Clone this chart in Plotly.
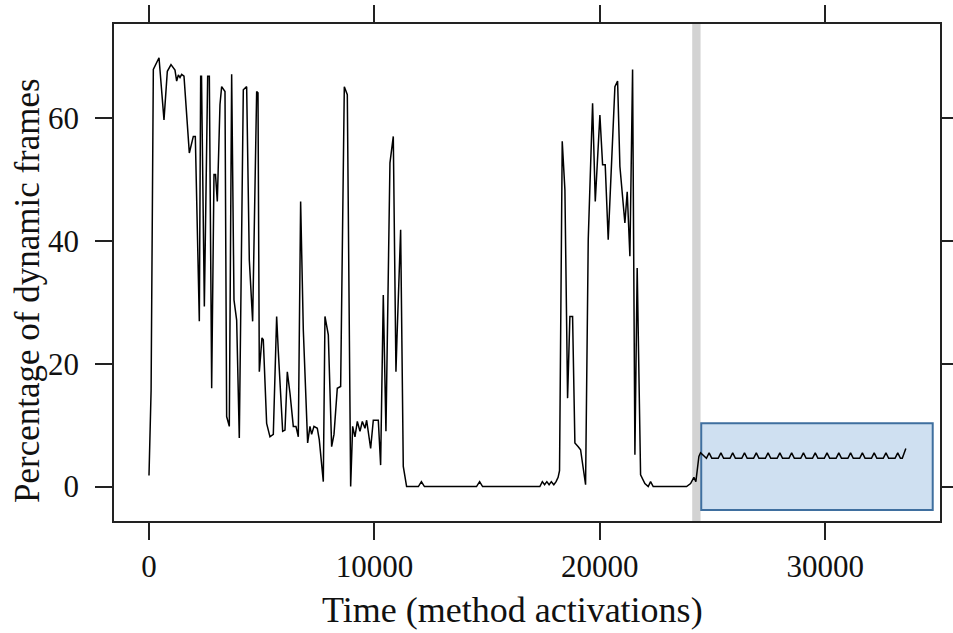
import plotly.graph_objects as go

# ---- data (time in method activations, percentage of dynamic frames) ----
early_t = [0, 93, 192, 444, 665, 813, 976, 1153, 1227, 1301, 1375, 1449, 1552, 1789, 1966, 2055,
           2232, 2292, 2330, 2455, 2603, 2677, 2780, 2883, 2950, 3031, 3149, 3223, 3371, 3445, 3563,
           3667, 3770, 3889, 4006, 4184, 4332, 4450, 4598, 4776, 4835, 4894, 5012, 5071, 5219,
           5367, 5515, 5663, 5737, 5930, 6033, 6136, 6255, 6402, 6520, 6624, 6727, 6846, 7038,
           7141, 7215, 7319, 7466, 7555, 7733, 7807, 7955, 8103, 8207, 8354, 8502, 8665, 8798,
           8946, 9035, 9138, 9242, 9360, 9464, 9582, 9656, 9833, 9951, 10173, 10276, 10394, 10512,
           10690, 10838, 10956, 11000, 11164, 11281, 11429]
early_v = [1.8, 15.7, 67.9, 69.8, 59.7, 67.6, 68.7, 67.8, 66.0, 67.0, 66.6, 67.1, 66.8, 54.3, 57.0, 57.0,
           26.9, 66.8, 66.8, 29.3, 66.8, 66.8, 16.0, 50.8, 50.8, 46.4, 62.2, 65.1, 64.3, 11.4, 9.8,
           67.1, 30.4, 27.1, 7.9, 64.6, 65.1, 36.9, 26.9, 64.3, 64.1, 18.7, 24.2, 23.9, 10.3,
           8.1, 8.5, 27.7, 22.0, 9.0, 9.2, 18.7, 15.2, 9.8, 9.8, 8.1, 46.4, 25.5, 7.1,
           9.8, 8.5, 9.8, 9.5, 7.6, 0.8, 27.7, 24.7, 6.5, 8.5, 16.0, 16.3, 65.1, 63.8,
           0.0, 9.8, 8.1, 10.6, 9.0, 10.6, 9.5, 10.8, 6.2, 10.8, 10.8, 3.5, 31.2, 9.0,
           52.7, 57.0, 18.7, 24.0, 41.8, 3.3, 0.0]

middle_t = [11950, 12085, 12220, 14530, 14668, 14800, 17340, 17450, 17550, 17650, 17750, 17850,
            17960, 18060, 18150, 18213, 18333, 18452, 18571, 18673, 18792, 18895, 19043, 19147,
            19369, 19487, 19680, 19799, 20004, 20124, 20240, 20373, 20670, 20789, 20892, 21113,
            21216, 21335, 21454, 21557, 21658, 21809, 22000, 22148, 22253, 22369, 23850, 24027,
            24174, 24262, 24396, 24470]
middle_v = [0.0, 0.8, 0.0, 0.0, 0.8, 0.0, 0.0, 0.8, 0.3, 0.8, 0.3, 0.8,
            0.3, 0.8, 1.5, 2.6, 56.2, 48.3, 14.4, 27.7, 27.7, 7.1, 6.5, 6.0,
            0.3, 40.2, 62.4, 46.4, 60.5, 52.4, 52.4, 40.2, 65.1, 66.0, 52.1, 42.9,
            48.0, 37.5, 67.9, 5.2, 35.6, 1.9, 0.5, 0.0, 0.8, 0.0, 0.0, 0.5,
            1.5, 0.8, 4.9, 5.5]

steady_t = [24730, 24850, 24970, 25253, 25373, 25493, 25776, 25896, 26016, 26299, 26419, 26539,
            26822, 26942, 27062, 27345, 27465, 27585, 27868, 27988, 28108, 28391, 28511, 28631,
            28914, 29034, 29154, 29437, 29557, 29677, 29960, 30080, 30200, 30483, 30603, 30723,
            31006, 31126, 31246, 31529, 31649, 31769, 32052, 32172, 32292, 32575, 32695, 32815,
            33098, 33218, 33338, 33420, 33577]
steady_v = [4.6, 5.5, 4.6, 4.6, 5.5, 4.6, 4.6, 5.5, 4.6, 4.6, 5.5, 4.6,
            4.6, 5.5, 4.6, 4.6, 5.5, 4.6, 4.6, 5.5, 4.6, 4.6, 5.5, 4.6,
            4.6, 5.5, 4.6, 4.6, 5.5, 4.6, 4.6, 5.5, 4.6, 4.6, 5.5, 4.6,
            4.6, 5.5, 4.6, 4.6, 5.5, 4.6, 4.6, 5.5, 4.6, 4.6, 5.5, 4.6,
            4.6, 5.5, 4.6, 4.6, 6.2]

time_vals = early_t + middle_t + steady_t
pct_vals = early_v + middle_v + steady_v

x_ticks = [0, 10000, 20000, 30000]
y_ticks = [0, 20, 40, 60]

band_x = [24100, 24470]          # grey marker band
box_x = [24500, 34770]           # highlighted steady-state region
box_y = [-3.8, 10.3]

FONT = "Liberation Serif"

fig = go.Figure()
fig.add_trace(go.Scatter(x=time_vals, y=pct_vals, mode="lines",
                         line=dict(color="black", width=1.5), showlegend=False,
                         hoverinfo="skip"))

fig.add_shape(type="rect", xref="x", yref="paper", x0=band_x[0], x1=band_x[1], y0=0, y1=1,
              fillcolor="#d3d3d3", line=dict(width=0), layer="below")
fig.add_shape(type="rect", xref="x", yref="y", x0=box_x[0], x1=box_x[1], y0=box_y[0], y1=box_y[1],
              fillcolor="#cfe0f1", line=dict(color="#3f6f9f", width=2), layer="below")

axis_common = dict(showline=True, linecolor="#222", linewidth=1.5, mirror="allticks",
                   ticks="outside", ticklen=17, tickwidth=1.5, tickcolor="#222",
                   showgrid=False, zeroline=False, automargin=False,
                   tickfont=dict(family=FONT, size=31, color="#111"))

fig.update_xaxes(range=[-1553, 35093], tickvals=x_ticks, ticktext=[str(v) for v in x_ticks],
                 ticklabelstandoff=0, **axis_common)
fig.update_yaxes(range=[-5.6, 75.3], tickvals=y_ticks, ticktext=[str(v) for v in y_ticks],
                 ticklabelstandoff=10, **axis_common)

fig.add_annotation(text="Time (method activations)", xref="paper", yref="paper",
                   x=0.483, y=-0.18, xanchor="center", yanchor="middle", showarrow=False,
                   font=dict(family=FONT, size=36, color="#111"))
fig.add_annotation(text="Percentage of dynamic frames", xref="paper", yref="paper",
                   x=-0.104, y=0.463, xanchor="center", yanchor="middle", textangle=-90,
                   showarrow=False, font=dict(family=FONT, size=35, color="#111"))

fig.update_layout(width=953, height=633, margin=dict(l=114, r=13, t=24, b=112),
                  plot_bgcolor="white", paper_bgcolor="white")

fig.write_html("out.html")
